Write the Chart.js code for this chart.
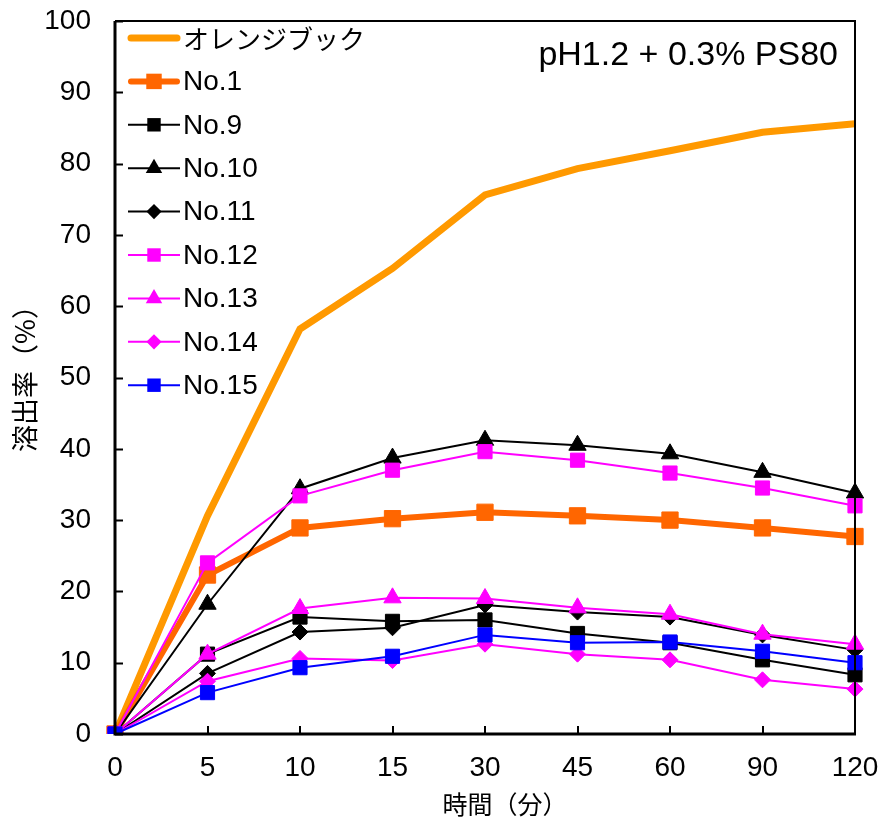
<!DOCTYPE html>
<html>
<head>
<meta charset="utf-8">
<script src="https://cdn.jsdelivr.net/npm/chart.js@4"></script>
<style>
html,body{margin:0;padding:0;background:#fff;}
#wrap{width:883px;height:823px;position:relative;}
</style>
</head>
<body>
<div id="wrap"><canvas id="c" width="883" height="823"></canvas></div>
<script>
const categories = ['0','5','10','15','30','45','60','90','120'];
const yTicks = [0,10,20,30,40,50,60,70,80,90,100];
const orangeBook = [0, 30.6, 56.8, 65.3, 75.6, 79.3, 81.8, 84.4, 85.6];
const no1  = [0, 22.3, 28.9, 30.2, 31.1, 30.6, 30.0, 28.9, 27.7];
const no9  = [0, 11.2, 16.4, 15.8, 16.0, 14.1, 12.8, 10.4, 8.3];
const no10 = [0, 18.2, 34.4, 38.7, 41.2, 40.5, 39.3, 36.7, 33.8];
const no11 = [0, 8.5, 14.3, 14.9, 18.1, 17.1, 16.4, 13.9, 11.8];
const no12 = [0, 24.0, 33.4, 37.0, 39.6, 38.4, 36.6, 34.5, 32.0];
const no13 = [0, 11.2, 17.6, 19.1, 19.0, 17.7, 16.8, 14.0, 12.6];
const no14 = [0, 7.4, 10.6, 10.3, 12.6, 11.2, 10.4, 7.6, 6.3];
const no15 = [0, 5.8, 9.3, 10.9, 13.9, 12.8, 12.9, 11.6, 10.0];
const seriesNames = ['オレンジブック','No.1','No.9','No.10','No.11','No.12','No.13','No.14','No.15'];
const annotationText = 'pH1.2 + 0.3% PS80';
const xTitle = '時間（分）';
const yTitle = '溶出率（%）';

const FONT = '"Liberation Sans", Arial, sans-serif';
const CJK = '"Noto Sans CJK JP", "Noto Sans", sans-serif';

function ds(label, data, color, width, style, radius) {
  return {
    label, data,
    borderColor: color, backgroundColor: color,
    borderWidth: width,
    pointStyle: style || 'circle',
    pointRadius: style ? radius : 0,
    pointHoverRadius: style ? radius : 0,
    pointBackgroundColor: color, pointBorderColor: color, pointBorderWidth: 1,
    tension: 0, fill: false
  };
}
const datasets = [
  ds(seriesNames[0], orangeBook, '#FF9900', 7, null, 0),
  ds(seriesNames[1], no1, '#FF6600', 6, 'rect', 11.5),
  ds(seriesNames[2], no9, '#000000', 2, 'rect', 10),
  ds(seriesNames[3], no10, '#000000', 2, 'triangle', 10),
  ds(seriesNames[4], no11, '#000000', 2, 'rectRot', 8),
  ds(seriesNames[5], no12, '#FF00FF', 2, 'rect', 10),
  ds(seriesNames[6], no13, '#FF00FF', 2, 'triangle', 10),
  ds(seriesNames[7], no14, '#FF00FF', 2, 'rectRot', 8),
  ds(seriesNames[8], no15, '#0000FF', 2, 'rect', 10)
];
datasets.forEach((d, i) => { d.order = datasets.length - i; });

function drawMarker(ctx, style, x, y, r, color) {
  ctx.save();
  ctx.fillStyle = color;
  ctx.beginPath();
  if (style === 'rect') {
    const s = r / Math.SQRT2;
    ctx.rect(x - s, y - s, 2 * s, 2 * s);
  } else if (style === 'triangle') {
    let rad = 0;
    ctx.moveTo(x + Math.sin(rad) * r, y - Math.cos(rad) * r);
    rad += 2 * Math.PI / 3;
    ctx.lineTo(x + Math.sin(rad) * r, y - Math.cos(rad) * r);
    rad += 2 * Math.PI / 3;
    ctx.lineTo(x + Math.sin(rad) * r, y - Math.cos(rad) * r);
    ctx.closePath();
  } else if (style === 'rectRot') {
    ctx.moveTo(x, y - r); ctx.lineTo(x + r, y); ctx.lineTo(x, y + r); ctx.lineTo(x - r, y);
    ctx.closePath();
  }
  ctx.fill();
  ctx.restore();
}

const decor = {
  id: 'decor',
  beforeDatasetsDraw(chart) {
    const ctx = chart.ctx, a = chart.chartArea;
    const xs = chart.scales.x, ys = chart.scales.y;
    ctx.save();
    ctx.strokeStyle = '#000';
    ctx.lineWidth = 2;
    ctx.beginPath();
    ys.ticks.forEach((t, i) => {
      const py = Math.round(ys.getPixelForTick(i)) + 0.5;
      ctx.moveTo(a.left, py); ctx.lineTo(a.left + 8, py);
    });
    xs.ticks.forEach((t, i) => {
      const px = Math.round(xs.getPixelForTick(i));
      ctx.moveTo(px, a.bottom); ctx.lineTo(px, a.bottom - 8);
    });
    ctx.stroke();
    ctx.restore();
  },
  afterDatasetsDraw(chart) {
    const ctx = chart.ctx, a = chart.chartArea;
    ctx.save();
    ctx.strokeStyle = '#000';
    ctx.lineWidth = 2;
    ctx.beginPath();
    ctx.moveTo(a.left, a.top); ctx.lineTo(a.right, a.top); ctx.lineTo(a.right, a.bottom);
    ctx.stroke();
    ctx.lineWidth = 3;
    ctx.beginPath();
    ctx.moveTo(a.left, a.top); ctx.lineTo(a.left, a.bottom); ctx.lineTo(a.right + 1, a.bottom);
    ctx.stroke();

    const x0 = 128, x1 = 180, ty = 38, step = 43.4;
    chart.data.datasets.forEach((d, i) => {
      const y = ty + i * step;
      ctx.strokeStyle = d.borderColor;
      ctx.lineWidth = d.borderWidth;
      ctx.lineCap = d.borderWidth > 3 ? 'round' : 'butt';
      const inset = d.borderWidth > 3 ? 3 : 0;
      ctx.beginPath(); ctx.moveTo(x0 + inset, y); ctx.lineTo(x1 - inset, y); ctx.stroke();
      if (d.pointRadius > 0) drawMarker(ctx, d.pointStyle, (x0 + x1) / 2, y, d.pointRadius * 0.95, d.borderColor);
      ctx.fillStyle = '#000';
      ctx.textBaseline = 'middle';
      ctx.textAlign = 'left';
      ctx.font = (i === 0 ? '26px ' + CJK : '28px ' + FONT);
      ctx.fillText(d.label, 183, y + 1);
    });

    ctx.fillStyle = '#000';
    ctx.font = '34px ' + FONT;
    ctx.textAlign = 'right';
    ctx.textBaseline = 'middle';
    ctx.fillText(annotationText, 838, 56);

    ctx.font = '25px ' + CJK;
    ctx.textAlign = 'center';
    ctx.fillText(xTitle, 505, 804);
    ctx.save();
    ctx.translate(25, 372);
    ctx.rotate(-Math.PI / 2);
    ctx.font = '27px ' + CJK;
    ctx.fillText(yTitle, 0, 0);
    ctx.restore();
    ctx.restore();
  }
};

new Chart(document.getElementById('c'), {
  type: 'line',
  data: { labels: categories, datasets },
  options: {
    responsive: false,
    animation: false,
    events: [],
    layout: { padding: { left: 0, right: 28, top: 21, bottom: 0 } },
    plugins: { legend: { display: false }, tooltip: { enabled: false } },
    scales: {
      x: {
        offset: false,
        grid: { display: false, drawTicks: false },
        border: { display: false },
        ticks: { color: '#000', font: { family: FONT, size: 28 }, padding: 17, maxRotation: 0, autoSkip: false },
        afterFit(s) { s.height = 89; s.paddingLeft = 0; s.paddingRight = 0; }
      },
      y: {
        min: 0, max: 100,
        afterBuildTicks(s) { s.ticks = yTicks.map(v => ({ value: v })); },
        grid: { display: false, drawTicks: false },
        border: { display: false },
        ticks: { color: '#000', font: { family: FONT, size: 28 }, padding: 24 },
        afterFit(s) { s.width = 115; s.paddingTop = 0; s.paddingBottom = 0; }
      }
    }
  },
  plugins: [decor]
});
</script>
</body>
</html>
